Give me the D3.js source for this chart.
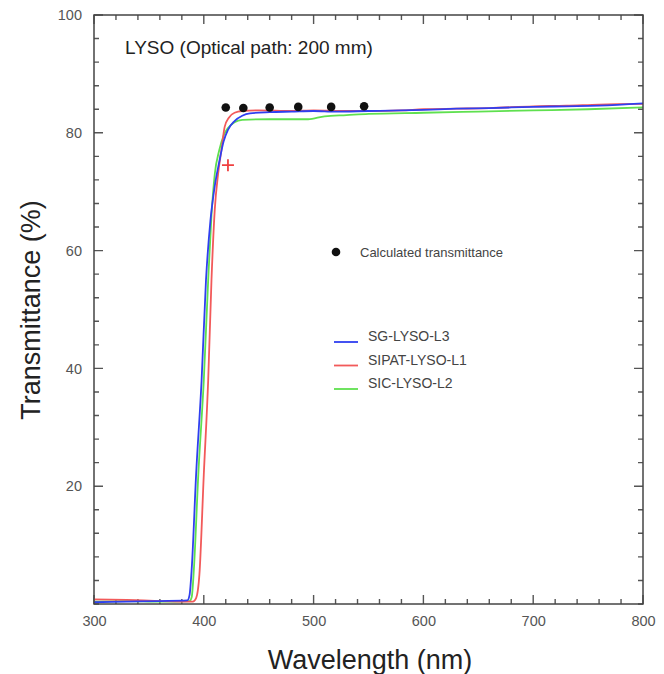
<!DOCTYPE html>
<html><head><meta charset="utf-8">
<script src="https://cdn.jsdelivr.net/npm/d3@7"></script>
<style>body{margin:0;background:#fff}svg{display:block;font-family:"Liberation Sans",Arial,sans-serif}</style>
</head><body><svg id="c" width="664" height="674"></svg>
<script>
const xTicks = [300, 400, 500, 600, 700, 800];
const yTicks = [20, 40, 60, 80, 100];
const seriesNames = ["SG-LYSO-L3", "SIPAT-LYSO-L1", "SIC-LYSO-L2"];
const seriesColors = ["#2f3ff0", "#f25a5a", "#5fe04f"];
const blueWl = [300, 330, 360, 385, 387, 389, 393, 398, 402, 406, 410, 414, 418, 422, 428, 435, 442, 460, 480, 500, 520, 550, 580, 600, 630, 660, 700, 730, 760, 800];
const blueT  = [0.3, 0.4, 0.5, 0.6, 1.5, 6, 22, 38, 55, 65, 71, 75, 78.5, 80.5, 82, 82.9, 83.3, 83.5, 83.6, 83.7, 83.6, 83.7, 83.8, 83.9, 84.1, 84.2, 84.4, 84.5, 84.6, 85.0];
const redWl = [300, 330, 360, 390, 393, 396, 400, 404, 407, 410, 413, 416, 419, 423, 428, 435, 450, 480, 500, 530, 550, 580, 600, 630, 660, 700, 730, 760, 800];
const redT  = [0.8, 0.7, 0.5, 0.4, 1.0, 5, 22, 38, 55, 67, 73, 77, 81, 82.6, 83.4, 83.7, 83.8, 83.7, 83.8, 83.7, 83.7, 83.8, 84.0, 84.1, 84.2, 84.5, 84.6, 84.8, 84.9];
const greenWl = [300, 330, 360, 387, 389, 391, 395, 400, 404, 407, 410, 414, 418, 422, 428, 435, 460, 495, 510, 530, 550, 600, 650, 700, 750, 800];
const greenT  = [0.4, 0.5, 0.4, 0.5, 1.2, 6, 22, 38, 55, 66, 73, 77, 79.5, 80.8, 81.8, 82.2, 82.3, 82.3, 82.8, 83.0, 83.2, 83.4, 83.6, 83.8, 84.0, 84.3];
const calcWl = [420, 436, 460, 486, 516, 546];
const calcT  = [84.3, 84.2, 84.3, 84.4, 84.4, 84.5];
const crossWl = [422];
const crossT  = [74.5];

const svg = d3.select("#c");
const L = 94, R = 643, T = 15, B = 604;
const x = d3.scaleLinear().domain([300, 800]).range([L, R]);
const y = d3.scaleLinear().domain([0, 100]).range([B, T]);

svg.append("clipPath").attr("id", "clip").append("rect").attr("x", L).attr("y", T).attr("width", R - L).attr("height", B - T);

const xMinor = d3.range(300, 801, 20);
const yMinor = d3.range(0, 101, 4);
const tickPath = [];
xMinor.forEach(v => { tickPath.push(`M${x(v)},${B}V${B - 5}`, `M${x(v)},${T}V${T + 5}`); });
xTicks.forEach(v => { tickPath.push(`M${x(v)},${B}V${B - 9}`, `M${x(v)},${T}V${T + 9}`); });
yMinor.forEach(v => { tickPath.push(`M${L},${y(v)}H${L + 5}`, `M${R},${y(v)}H${R - 5}`); });
yTicks.forEach(v => { tickPath.push(`M${L},${y(v)}H${L + 9}`, `M${R},${y(v)}H${R - 9}`); });
svg.append("path").attr("d", tickPath.join("")).attr("fill", "none").attr("stroke", "#555").attr("stroke-width", 1.4);

const xl = svg.append("g").attr("transform", `translate(0,${B})`).call(d3.axisBottom(x).tickValues(xTicks).tickSize(0).tickPadding(12));
xl.select(".domain").remove();
xl.selectAll("text").attr("font-size", 14.5).attr("fill", "#555").attr("font-family", "Liberation Sans, Arial, sans-serif");
const yl = svg.append("g").attr("transform", `translate(${L},0)`).call(d3.axisLeft(y).tickValues(yTicks).tickSize(0).tickPadding(12));
yl.select(".domain").remove();
yl.selectAll("text").attr("font-size", 14.5).attr("fill", "#555").attr("font-family", "Liberation Sans, Arial, sans-serif");

const line = d3.line().x(d => x(d[0])).y(d => y(d[1])).curve(d3.curveMonotoneX);
const series = [[blueWl, blueT], [redWl, redT], [greenWl, greenT]];
const order = [2, 1, 0];
const cg = svg.append("g").attr("clip-path", "url(#clip)");
order.forEach(i => {
  const [wl, t] = series[i];
  cg.append("path").datum(wl.map((w, k) => [w, t[k]])).attr("d", line)
    .attr("fill", "none").attr("stroke", seriesColors[i]).attr("stroke-width", 1.8);
});

svg.append("rect").attr("x", L).attr("y", T).attr("width", R - L).attr("height", B - T)
  .attr("fill", "none").attr("stroke", "#444").attr("stroke-width", 1.5);

svg.append("g").selectAll("circle").data(calcWl.map((w, k) => [w, calcT[k]])).join("circle")
  .attr("cx", d => x(d[0])).attr("cy", d => y(d[1])).attr("r", 4.3).attr("fill", "#111");
svg.append("g").selectAll("path").data(crossWl.map((w, k) => [w, crossT[k]])).join("path")
  .attr("d", d => `M${x(d[0]) - 6},${y(d[1])}H${x(d[0]) + 6}M${x(d[0])},${y(d[1]) - 6}V${y(d[1]) + 6}`)
  .attr("stroke", "#f04040").attr("stroke-width", 1.8).attr("fill", "none");

svg.append("text").attr("x", 125).attr("y", 54).attr("font-size", 19).attr("fill", "#222").text("LYSO (Optical path: 200 mm)");

svg.append("circle").attr("cx", 336).attr("cy", 252).attr("r", 4.3).attr("fill", "#111");
svg.append("text").attr("x", 360).attr("y", 257).attr("font-size", 13).attr("fill", "#444").text("Calculated transmittance");
seriesNames.forEach((n, i) => {
  const yy = 342 + i * 23.5;
  svg.append("line").attr("x1", 334).attr("x2", 358).attr("y1", yy).attr("y2", yy).attr("stroke", seriesColors[i]).attr("stroke-width", 1.8);
  svg.append("text").attr("x", 368).attr("y", yy - 1).attr("font-size", 14).attr("fill", "#444").text(n);
});

svg.append("text").attr("x", 370).attr("y", 669).attr("text-anchor", "middle").attr("font-size", 27).attr("fill", "#222").text("Wavelength (nm)");
svg.append("text").attr("transform", "translate(40,310) rotate(-90)").attr("text-anchor", "middle").attr("font-size", 27).attr("fill", "#222").text("Transmittance (%)");
</script></body></html>
